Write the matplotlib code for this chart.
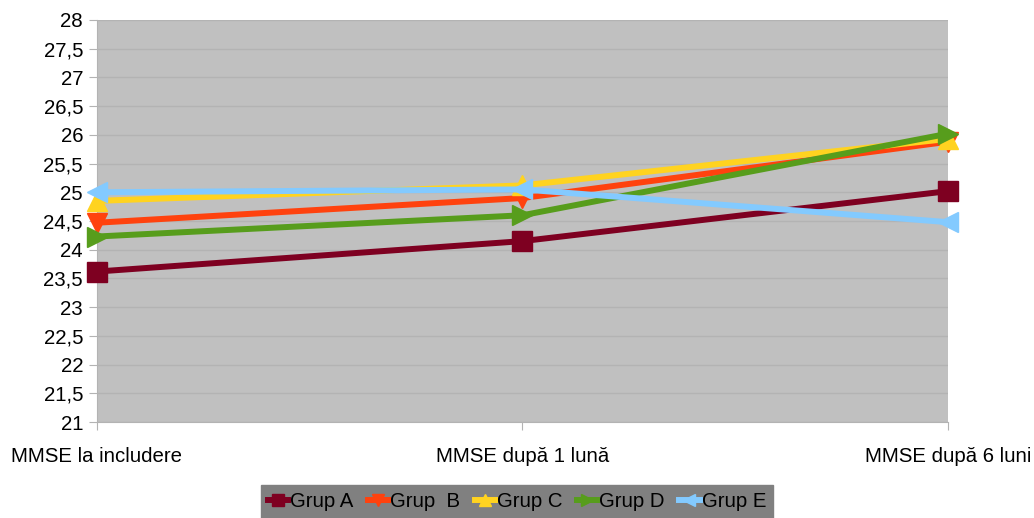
import matplotlib
matplotlib.use('Agg')
import matplotlib.pyplot as plt
from matplotlib.ticker import FuncFormatter, MultipleLocator

plt.rcParams['font.family'] = ['Liberation Sans', 'DejaVu Sans']

categories = ['MMSE la includere', 'MMSE după 1 lună', 'MMSE după 6 luni']
groups = ['Grup A', 'Grup  B', 'Grup C', 'Grup D', 'Grup E']
grup_a = [23.62, 24.15, 25.02]
grup_b = [24.47, 24.90, 25.88]
grup_c = [24.85, 25.12, 25.93]
grup_d = [24.23, 24.60, 26.02]
grup_e = [25.00, 25.05, 24.48]

series = [grup_a, grup_b, grup_c, grup_d, grup_e]
colors = ['#7E0021', '#FF420E', '#FFD320', '#579D1C', '#83CAFF']
markers = ['s', 'v', '^', '>', '<']

fig = plt.figure(figsize=(10.34, 5.18), dpi=100)
ax = fig.add_axes([0.0938, 0.1853, 0.823, 0.7761])
ax.set_facecolor('#C0C0C0')

x = list(range(len(categories)))
for name, vals, c, m in zip(groups, series, colors, markers):
    ax.plot(x, vals, color=c, marker=m, lw=4.3, ms=14, label=name,
            clip_on=False, zorder=3)

ax.set_xlim(0, 2)
ax.set_ylim(21, 28)
ax.yaxis.set_major_locator(MultipleLocator(0.5))
ax.yaxis.set_major_formatter(FuncFormatter(lambda v, p: ('%g' % v).replace('.', ',')))
ax.grid(axis='y', color='#B3B3B3', lw=1)
ax.set_axisbelow(True)
ax.set_xticks(x)
ax.set_xticklabels(categories)
ax.tick_params(axis='x', length=6, color='#B3B3B3', pad=12, labelsize=14.7)
ax.tick_params(axis='y', length=6, color='#B3B3B3', pad=4, labelsize=14.7)
for s in ['top', 'right']:
    ax.spines[s].set_visible(False)
for s in ['left', 'bottom']:
    ax.spines[s].set_color('#B3B3B3')

leg = fig.legend(loc='lower center', bbox_to_anchor=(0.5, 0.0), ncol=5,
                 frameon=True, fancybox=False, facecolor='#808080',
                 edgecolor='#808080', fontsize=14.7, handlelength=1.0,
                 handletextpad=0.1, columnspacing=0.7, borderpad=0.35,
                 borderaxespad=0, markerscale=0.6)
leg.get_frame().set_alpha(1)

fig.savefig('out.png', dpi=100)
